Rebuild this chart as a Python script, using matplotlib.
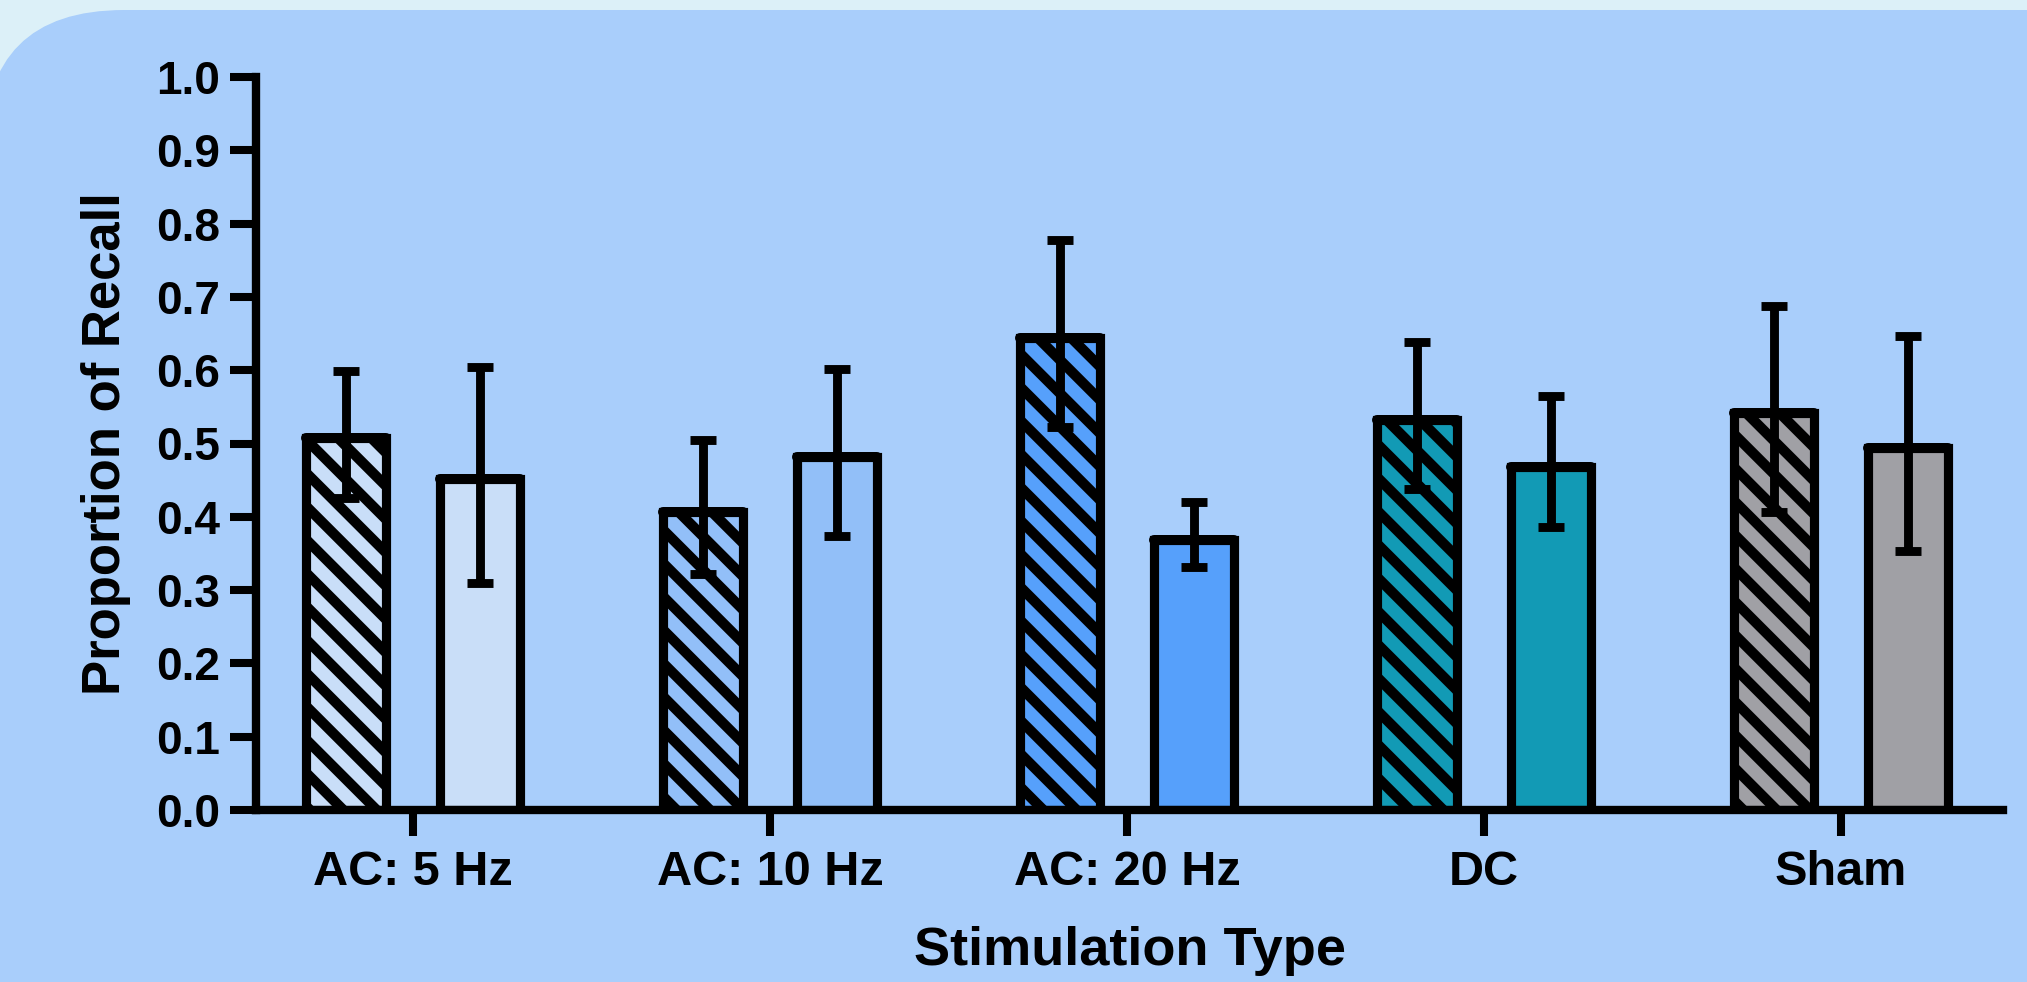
import matplotlib.pyplot as plt
import numpy as np
from matplotlib.patches import FancyBboxPatch

plt.rcParams['font.family'] = ['Liberation Sans', 'DejaVu Sans']
plt.rcParams['font.weight'] = 'bold'
plt.rcParams['hatch.linewidth'] = 3.7

categories = ['AC: 5 Hz', 'AC: 10 Hz', 'AC: 20 Hz', 'DC', 'Sham']
colors = ['#c9def8', '#92bff8', '#56a0fb', '#129ab5', '#a0a0a5']

# hatched bars (left in each group)
hatched_mean = [0.507, 0.407, 0.644, 0.532, 0.541]
hatched_hi = [0.599, 0.505, 0.777, 0.638, 0.688]
hatched_lo = [0.426, 0.322, 0.523, 0.438, 0.407]

# plain bars (right in each group)
plain_mean = [0.451, 0.481, 0.369, 0.468, 0.494]
plain_hi = [0.605, 0.602, 0.420, 0.565, 0.647]
plain_lo = [0.310, 0.374, 0.332, 0.386, 0.354]

DPI = 200
fig = plt.figure(figsize=(2027 / DPI, 982 / DPI), dpi=DPI)
fig.patch.set_facecolor('#dcf0f8')

# rounded panel behind the chart (pixel coords)
panel = FancyBboxPatch((-16, -66), 2300, 1038,
                       boxstyle='round,pad=0,rounding_size=140',
                       transform=None, facecolor='#a9cefb', edgecolor='none', zorder=-5)
fig.patches.append(panel)

ax = fig.add_axes([256 / 2027, 1 - 810 / 982, (2003 - 256) / 2027, (810 - 77) / 982])
ax.set_facecolor('none')
ax.set_zorder(1)

x = np.arange(len(categories))
off = 0.188
w = 0.224

hm = np.array(hatched_mean)
pm = np.array(plain_mean)
h_err = [hm - np.array(hatched_lo), np.array(hatched_hi) - hm]
p_err = [pm - np.array(plain_lo), np.array(plain_hi) - pm]

ax.bar(x - off, hm, w, color=colors, edgecolor='black', linewidth=3.3,
       hatch='\\\\', zorder=2)
ax.bar(x + off, pm, w, color=colors, edgecolor='black', linewidth=3.3, zorder=2)

for xs, m, e in [(x - off, hm, h_err), (x + off, pm, p_err)]:
    # bar top line with rounded ends, like the original
    ax.hlines(m, xs - w / 2, xs + w / 2, colors='black', linewidth=3.6,
              capstyle='round', zorder=3)
    ax.errorbar(xs, m, yerr=e, fmt='none', ecolor='black', elinewidth=3.2,
                capsize=4.7, capthick=3.2, zorder=3)

ax.set_xlim(-0.44, 4.454)
ax.set_ylim(0, 1.0)
ax.set_yticks(np.arange(0, 1.01, 0.1))
ax.set_yticklabels([f'{v:.1f}' for v in np.arange(0, 1.01, 0.1)])
ax.set_xticks(x)
ax.set_xticklabels(categories)

for s in ['top', 'right']:
    ax.spines[s].set_visible(False)
for s in ['left', 'bottom']:
    ax.spines[s].set_linewidth(3.0)

ax.tick_params(axis='both', width=2.9, length=9.4)
ax.tick_params(axis='y', pad=3.6, labelsize=16.5)
ax.tick_params(axis='x', pad=5, labelsize=17.5)

ax.set_xlabel('Stimulation Type', fontsize=19.5, fontweight='bold', labelpad=11)
ax.set_ylabel('Proportion of Recall', fontsize=19, fontweight='bold', labelpad=9)

fig.savefig('out.png', dpi=DPI)
